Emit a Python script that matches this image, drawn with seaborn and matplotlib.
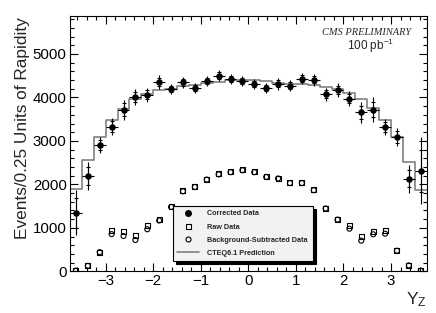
import numpy as np
import pandas as pd
import matplotlib
matplotlib.use("Agg")
import matplotlib.pyplot as plt
import seaborn as sns
from matplotlib.lines import Line2D
from matplotlib.ticker import MultipleLocator

# ---------------- data ----------------
bin_edges = np.linspace(-3.75, 3.75, 31)          # 0.25-wide rapidity bins
bin_centers = 0.5 * (bin_edges[:-1] + bin_edges[1:])

corrected = [1349, 2193, 2900, 3328, 3712, 4010, 4065, 4355, 4189, 4345,
             4212, 4373, 4500, 4419, 4378, 4304, 4212, 4311, 4272, 4433,
             4403, 4078, 4173, 3972, 3655, 3720, 3314, 3095, 2131, 2315]
corrected_tot_err = [520, 315, 190, 190, 240, 180, 160, 160, 120, 120,
                     120, 120, 120, 120, 110, 120, 120, 130, 120, 130,
                     130, 150, 160, 170, 240, 280, 180, 210, 320, 770]
corrected_stat_err = [345, 200, 120, 120, 150, 115, 100, 100, 75, 75,
                      75, 75, 75, 75, 70, 75, 75, 80, 75, 80,
                      80, 95, 100, 110, 150, 175, 115, 135, 200, 480]
raw_data = [15, 125, 440, 945, 912, 828, 1043, 1190, 1487, 1848,
            1947, 2117, 2239, 2285, 2331, 2285, 2177, 2140, 2039, 2039,
            1871, 1450, 1197, 1043, 796, 927, 943, 474, 135, 14]
bkg_subtracted = [15, 125, 440, 855, 812, 720, 967, 1170, 1480, 1840,
                  1940, 2110, 2230, 2280, 2325, 2280, 2170, 2135, 2030, 2030,
                  1865, 1445, 1190, 980, 704, 851, 865, 474, 135, 14]
cteq_prediction = [1900, 2550, 3090, 3470, 3740, 3960, 4075, 4165, 4205, 4255,
                   4290, 4340, 4365, 4390, 4400, 4400, 4380, 4330, 4320, 4300,
                   4280, 4240, 4189, 4097, 3958, 3751, 3482, 3098, 2522, 1880]

legend_labels = ["Corrected Data", "Raw Data", "Background-Subtracted Data",
                 "CTEQ6.1 Prediction"]

pred_df = pd.DataFrame({"y": bin_centers, "pred": cteq_prediction})

# ---------------- style ----------------
sns.set_style("ticks")
plt.rcParams["font.family"] = ["Liberation Sans", "DejaVu Sans"]
plt.rcParams.update({
    "mathtext.fontset": "custom",
    "mathtext.rm": "Liberation Sans",
    "mathtext.it": "Liberation Sans:italic",
    "axes.edgecolor": "black",
    "axes.linewidth": 0.8,
    "xtick.color": "black",
    "ytick.color": "black",
})

fig = plt.figure(figsize=(4.36, 3.13), dpi=100)
ax = fig.add_axes([70 / 436, 1 - 271.3 / 313, 356.7 / 436, 255.6 / 313])

# CTEQ prediction as step histogram
sns.histplot(data=pred_df, x="y", weights="pred", binwidth=0.25,
             binrange=(bin_edges[0], bin_edges[-1]),
             element="step", fill=False, color="#808080", linewidth=1.2,
             ax=ax, zorder=2)

# open markers
sns.scatterplot(x=bin_centers, y=raw_data, marker="s", s=13,
                facecolor="none", edgecolor="black", linewidth=0.8,
                ax=ax, zorder=3)
sns.scatterplot(x=bin_centers, y=bkg_subtracted, marker="o", s=13,
                facecolor="none", edgecolor="black", linewidth=0.8,
                ax=ax, zorder=3)

# corrected data with errors
ax.errorbar(bin_centers, corrected, yerr=corrected_tot_err, xerr=0.125,
            fmt="none", ecolor="black", elinewidth=0.8, capsize=0, zorder=4)
ax.errorbar(bin_centers, corrected, yerr=corrected_stat_err,
            fmt="none", ecolor="black", elinewidth=0.8, capsize=1.3,
            capthick=0.8, zorder=4)
sns.scatterplot(x=bin_centers, y=corrected, marker="o", s=22,
                color="black", edgecolor="black", linewidth=0,
                ax=ax, zorder=5)

# axes
ax.set_xlim(-3.75, 3.75)
ax.set_ylim(0, 5880)
ax.xaxis.set_major_locator(MultipleLocator(1))
ax.xaxis.set_minor_locator(MultipleLocator(0.2))
ax.yaxis.set_major_locator(MultipleLocator(1000))
ax.yaxis.set_minor_locator(MultipleLocator(200))
ax.tick_params(which="both", direction="in", top=True, right=True,
               width=0.8, labelsize=10.8)
ax.tick_params(which="major", length=5.8)
ax.tick_params(which="minor", length=2.9)
ax.tick_params(axis="y", pad=2.4)
ax.tick_params(axis="x", pad=2.0)
for sp in ax.spines.values():
    sp.set_visible(True)
    sp.set_color("black")

ax.set_ylabel("Events/0.25 Units of Rapidity", fontsize=12.4, loc="top")
ax.yaxis.set_label_coords(-0.113, 0.995)
ax.set_xlabel(r"Y$_{\mathrm{Z}}$", fontsize=12.5, loc="right")
ax.xaxis.set_label_coords(1.0, -0.075)

# legend
handles = [
    Line2D([], [], marker="o", ls="none", color="black", markersize=4),
    Line2D([], [], marker="s", ls="none", mfc="none", mec="black",
           markersize=3.6, mew=0.8),
    Line2D([], [], marker="o", ls="none", mfc="none", mec="black",
           markersize=3.6, mew=0.8),
    Line2D([], [], color="#808080", lw=1.2),
]
leg = ax.legend(handles, legend_labels, loc="upper left",
                bbox_to_anchor=(0.2888, 0.0, 0.3924, 0.2555), mode="expand",
                borderaxespad=0, prop={"weight": "bold", "size": 5.2},
                frameon=True, fancybox=False,
                shadow={"color": "black", "alpha": 1},
                edgecolor="black", facecolor="#f2f2f2", framealpha=1,
                handlelength=3.0, handletextpad=1.05, labelspacing=0.85,
                borderpad=0.6)
leg.get_frame().set_linewidth(0.8)
leg.set_zorder(6)

# annotations
fig.text(410.7 / 436, 1 - 32.7 / 313, "CMS PRELIMINARY", ha="right",
         va="center", fontsize=7.5, family="Liberation Serif", style="italic")
fig.text(394 / 436, 1 - 45.5 / 313, r"100 pb$^{\mathrm{-1}}$", ha="right",
         va="center", fontsize=8.5)

fig.savefig("out.png", dpi=100)
